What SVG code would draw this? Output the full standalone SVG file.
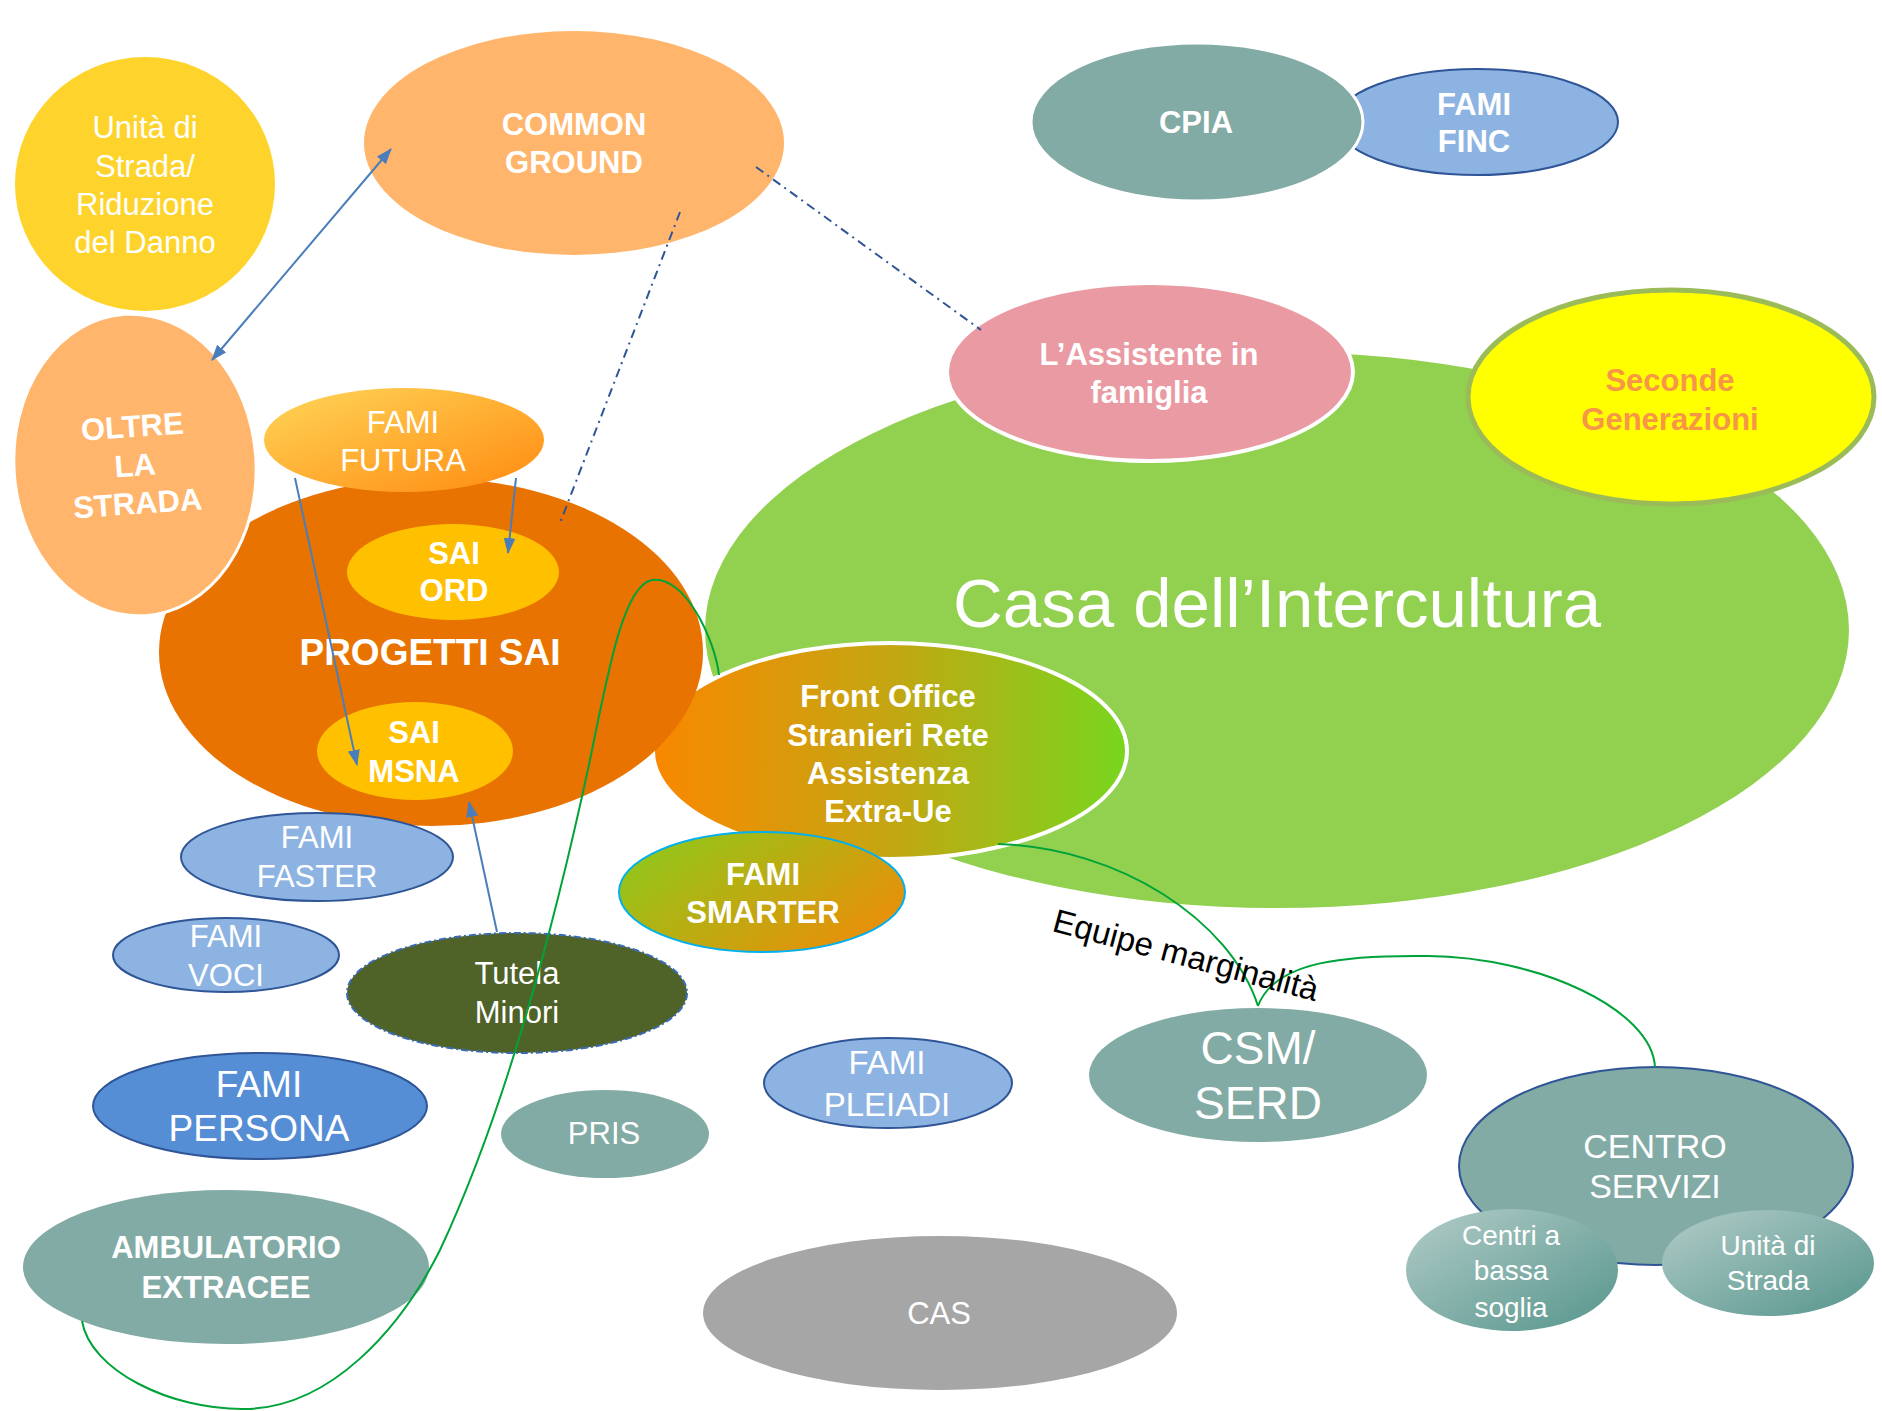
<svg xmlns="http://www.w3.org/2000/svg" width="1882" height="1411" viewBox="0 0 1882 1411">
  <defs>
    <linearGradient id="gFutura" x1="0" y1="0" x2="1" y2="1">
      <stop offset="0" stop-color="#FFD659"/>
      <stop offset="1" stop-color="#FF8A0F"/>
    </linearGradient>
    <linearGradient id="gFront" x1="0" y1="0" x2="1" y2="0">
      <stop offset="0" stop-color="#F98800"/>
      <stop offset="0.5" stop-color="#C4A612"/>
      <stop offset="1" stop-color="#78D61E"/>
    </linearGradient>
    <linearGradient id="gSmarter" x1="0" y1="0.2" x2="1" y2="0.8">
      <stop offset="0" stop-color="#8FC81A"/>
      <stop offset="1" stop-color="#EE8C08"/>
    </linearGradient>
    <linearGradient id="gTeal" x1="0" y1="0" x2="1" y2="1">
      <stop offset="0" stop-color="#B3CCC8"/>
      <stop offset="1" stop-color="#55958C"/>
    </linearGradient>
    <marker id="arrow" viewBox="0 0 16 12" markerWidth="16" markerHeight="12" refX="15" refY="6" orient="auto-start-reverse" markerUnits="userSpaceOnUse">
      <path d="M0,0 L16,6 L0,12 z" fill="#4A7EBB"/>
    </marker>
    <style>
      text { font-family: "Liberation Sans", Arial, sans-serif; fill: #FFFFFF; text-anchor: middle; }
      .n { font-size: 31px; }
      .b { font-size: 31px; font-weight: bold; }
      .teal { fill: #82ABA5; }
      .lblue { fill: #8DB3E2; stroke: #2F5597; stroke-width: 2; }
      .gold { fill: #FFC000; }
      .peach { fill: #FFB56B; }
      .arrow { fill: none; stroke: #4A7EBB; stroke-width: 2; }
      .dashdot { fill: none; stroke: #2F5597; stroke-width: 2; stroke-dasharray: 9 5 2 5; }
      .link { fill: none; stroke: #00A33A; stroke-width: 2; }
    </style>
  </defs>

  <rect width="1882" height="1411" fill="#FFFFFF"/>

  <!-- large green area -->
  <g id="casa">
    <ellipse cx="1277" cy="630" rx="572" ry="278" fill="#92D050"/>
    <text x="1277" y="627" style="font-size:69px">Casa dell’Intercultura</text>
  </g>

  <g id="assistente">
    <ellipse cx="1150" cy="372" rx="203" ry="89" fill="#EA9AA2" stroke="#FFFFFF" stroke-width="4"/>
    <text class="b"><tspan x="1149" y="365">L’Assistente in</tspan><tspan x="1149" y="403">famiglia</tspan></text>
  </g>

  <g id="seconde">
    <ellipse cx="1671" cy="397" rx="203" ry="107" fill="#FFFF00" stroke="#9BBB59" stroke-width="5"/>
    <text class="b" style="fill:#F79646"><tspan x="1670" y="391">Seconde</tspan><tspan x="1670" y="430">Generazioni</tspan></text>
  </g>

  <g id="front-office">
    <ellipse cx="890" cy="751" rx="237" ry="108" fill="url(#gFront)" stroke="#FFFFFF" stroke-width="4"/>
    <text class="b"><tspan x="888" y="707">Front Office</tspan><tspan x="888" y="746">Stranieri Rete</tspan><tspan x="888" y="784">Assistenza</tspan><tspan x="888" y="822">Extra-Ue</tspan></text>
  </g>

  <g id="fami-smarter">
    <ellipse cx="762" cy="892" rx="143" ry="60" fill="url(#gSmarter)" stroke="#00B0F0" stroke-width="2"/>
    <text class="b"><tspan x="763" y="885">FAMI</tspan><tspan x="763" y="923">SMARTER</tspan></text>
  </g>

  <g id="progetti-sai">
    <ellipse cx="431" cy="652" rx="272" ry="174" fill="#E97300"/>
    <text x="430" y="665" style="font-size:37px;font-weight:bold">PROGETTI SAI</text>
  </g>

  <g id="sai-ord">
    <ellipse cx="453" cy="572" rx="106" ry="48" class="gold"/>
    <text class="b"><tspan x="454" y="564">SAI</tspan><tspan x="454" y="601">ORD</tspan></text>
  </g>

  <g id="sai-msna">
    <ellipse cx="415" cy="751" rx="98" ry="49" class="gold"/>
    <text class="b"><tspan x="414" y="743">SAI</tspan><tspan x="414" y="782">MSNA</tspan></text>
  </g>

  <g id="fami-futura">
    <ellipse cx="404" cy="440" rx="140" ry="52" fill="url(#gFutura)"/>
    <text class="n"><tspan x="403" y="433">FAMI</tspan><tspan x="403" y="471">FUTURA</tspan></text>
  </g>

  <g id="unita-strada-riduzione">
    <ellipse cx="145" cy="184" rx="130" ry="127" fill="#FED42C"/>
    <text class="n"><tspan x="145" y="138">Unità di</tspan><tspan x="145" y="177">Strada/</tspan><tspan x="145" y="215">Riduzione</tspan><tspan x="145" y="253">del Danno</tspan></text>
  </g>

  <g id="common-ground">
    <ellipse cx="574" cy="143" rx="210" ry="112" class="peach"/>
    <text class="b"><tspan x="574" y="135">COMMON</tspan><tspan x="574" y="173">GROUND</tspan></text>
  </g>

  <g id="oltre-la-strada" transform="rotate(-4 135 465)">
    <ellipse cx="135" cy="465" rx="121" ry="151" class="peach" stroke="#FFFFFF" stroke-width="3"/>
    <text class="b"><tspan x="135" y="437">OLTRE</tspan><tspan x="135" y="476">LA</tspan><tspan x="135" y="514">STRADA</tspan></text>
  </g>

  <g id="fami-faster">
    <ellipse cx="317" cy="857" rx="136" ry="44" class="lblue"/>
    <text class="n"><tspan x="317" y="848">FAMI</tspan><tspan x="317" y="887">FASTER</tspan></text>
  </g>

  <g id="fami-voci">
    <ellipse cx="226" cy="955" rx="113" ry="37" class="lblue"/>
    <text class="n"><tspan x="226" y="947">FAMI</tspan><tspan x="226" y="986">VOCI</tspan></text>
  </g>

  <g id="tutela-minori">
    <ellipse cx="517" cy="993" rx="170" ry="60" fill="#4F6228" stroke="#3A6BB5" stroke-width="2" stroke-dasharray="7 3 2 3"/>
    <text class="n"><tspan x="517" y="984">Tutela</tspan><tspan x="517" y="1023">Minori</tspan></text>
  </g>

  <g id="fami-persona">
    <ellipse cx="260" cy="1106" rx="167" ry="53" fill="#558ED5" stroke="#2F5597" stroke-width="2"/>
    <text style="font-size:37px"><tspan x="259" y="1097">FAMI</tspan><tspan x="259" y="1141">PERSONA</tspan></text>
  </g>

  <g id="pris">
    <ellipse cx="605" cy="1134" rx="104" ry="44" class="teal"/>
    <text class="n" x="604" y="1144">PRIS</text>
  </g>

  <g id="ambulatorio">
    <ellipse cx="226" cy="1267" rx="203" ry="77" class="teal"/>
    <text class="b"><tspan x="226" y="1258">AMBULATORIO</tspan><tspan x="226" y="1298">EXTRACEE</tspan></text>
  </g>

  <g id="cas">
    <ellipse cx="940" cy="1313" rx="237" ry="77" fill="#A6A6A6"/>
    <text class="n" x="939" y="1324">CAS</text>
  </g>

  <g id="fami-pleiadi">
    <ellipse cx="888" cy="1083" rx="124" ry="45" class="lblue"/>
    <text style="font-size:33px"><tspan x="887" y="1074">FAMI</tspan><tspan x="887" y="1116">PLEIADI</tspan></text>
  </g>

  <g id="fami-finc">
    <ellipse cx="1477" cy="122" rx="141" ry="53" class="lblue"/>
    <text class="b"><tspan x="1474" y="115">FAMI</tspan><tspan x="1474" y="152">FINC</tspan></text>
  </g>

  <g id="cpia">
    <ellipse cx="1197" cy="122" rx="166" ry="79" class="teal" stroke="#FFFFFF" stroke-width="3"/>
    <text class="b" x="1196" y="133">CPIA</text>
  </g>

  <g id="csm-serd">
    <ellipse cx="1258" cy="1075" rx="169" ry="67" class="teal"/>
    <text style="font-size:46px"><tspan x="1258" y="1064">CSM/</tspan><tspan x="1258" y="1119">SERD</tspan></text>
  </g>

  <g id="centro-servizi">
    <ellipse cx="1656" cy="1166" rx="197" ry="99" class="teal" stroke="#2F5597" stroke-width="2"/>
    <text style="font-size:34px"><tspan x="1655" y="1158">CENTRO</tspan><tspan x="1655" y="1198">SERVIZI</tspan></text>
  </g>

  <g id="centri-bassa-soglia">
    <ellipse cx="1512" cy="1270" rx="106" ry="61" fill="url(#gTeal)"/>
    <text style="font-size:28px"><tspan x="1511" y="1245">Centri a</tspan><tspan x="1511" y="1280">bassa</tspan><tspan x="1511" y="1317">soglia</tspan></text>
  </g>

  <g id="unita-strada">
    <ellipse cx="1768" cy="1263" rx="106" ry="53" fill="url(#gTeal)"/>
    <text style="font-size:28px"><tspan x="1768" y="1255">Unità di</tspan><tspan x="1768" y="1290">Strada</tspan></text>
  </g>

  <!-- connectors -->
  <g id="connectors">
    <line class="arrow" x1="391" y1="149" x2="212" y2="360" marker-start="url(#arrow)" marker-end="url(#arrow)"/>
    <line class="arrow" x1="516" y1="478" x2="508" y2="553" marker-end="url(#arrow)"/>
    <line class="arrow" x1="295" y1="478" x2="357" y2="765" marker-end="url(#arrow)"/>
    <line class="arrow" x1="497" y1="932" x2="469" y2="802" marker-end="url(#arrow)"/>
    <line class="dashdot" x1="680" y1="212" x2="560" y2="523"/>
    <line class="dashdot" x1="756" y1="167" x2="981" y2="330"/>
    <path class="link" d="M82,1321 C90,1370 170,1410 245,1409 C330,1408 400,1330 440,1250 C510,1100 560,900 590,760 C610,660 625,585 652,580 C685,575 715,640 719,675"/>
    <path class="link" d="M998,844 C1120,848 1230,920 1258,1006"/>
    <path class="link" d="M1258,1006 C1275,960 1350,955 1428,956 C1540,957 1652,1010 1655,1067"/>
    <text x="1183" y="966" transform="rotate(15 1183 966)" style="font-size:33px;fill:#000000">Equipe marginalità</text>
  </g>
</svg>
